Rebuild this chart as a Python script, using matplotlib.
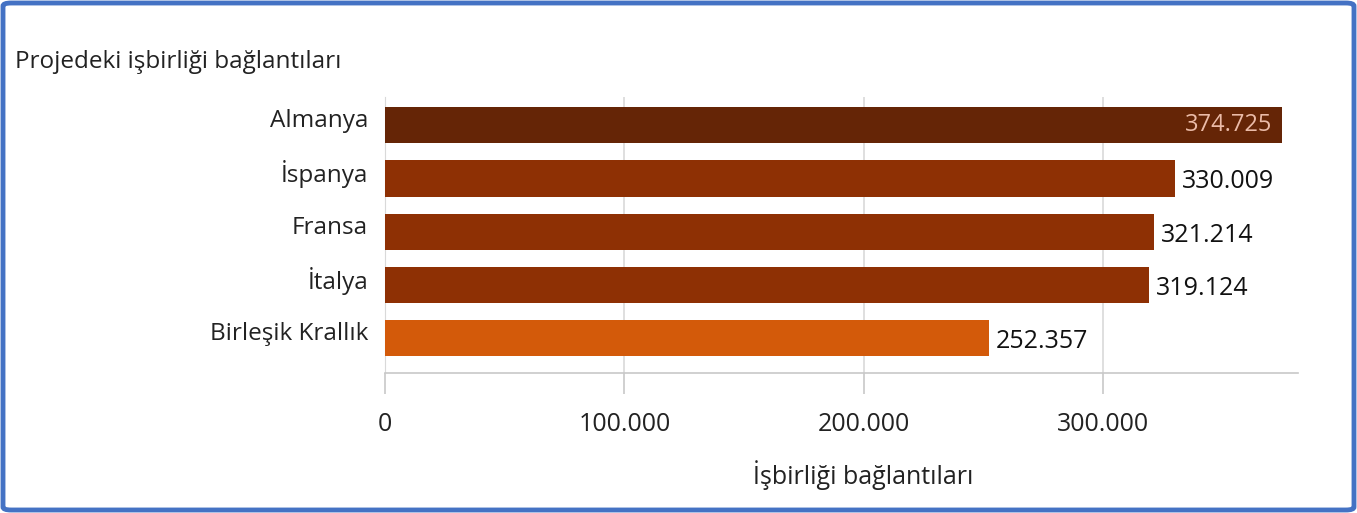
import matplotlib.pyplot as plt
from matplotlib.patches import FancyBboxPatch
from matplotlib.ticker import FuncFormatter

# veriler
countries = ['Almanya', 'İspanya', 'Fransa', 'İtalya', 'Birleşik Krallık']
values = [374725, 330009, 321214, 319124, 252357]
bar_colors = ['#652506', '#8E3004', '#8E3004', '#8E3004', '#D35A0A']
x_ticks = [0, 100000, 200000, 300000]

plt.rcParams['font.family'] = ['Open Sans', 'DejaVu Sans']

W, H = 1357, 513
fig = plt.figure(figsize=(W / 100, H / 100), dpi=100)
ax = fig.add_axes([385 / W, 1 - 373 / H, (1298 - 385) / W, (373 - 97) / H])

y = list(range(len(countries)))
ax.barh(y, values, height=0.68, color=bar_colors, zorder=3)
ax.set_ylim(4.65, -0.53)
ax.set_xlim(0, 381500)

# kategori etiketleri (çubuk merkezinin biraz üstünde)
ax.set_yticks(y)
ax.set_yticklabels([])
ax.tick_params(axis='y', length=0)
for i, c in enumerate(countries):
    ax.text(-17 / (1298 - 385), i - 0.08, c, transform=ax.get_yaxis_transform(),
            ha='right', va='center', fontsize=17.5, color='#222222')

ax.set_xticks(x_ticks)
ax.xaxis.set_major_formatter(FuncFormatter(lambda v, p: f'{int(v):,}'.replace(',', '.')))
ax.tick_params(axis='x', length=15, color='#c8c8c8', width=1.2, labelsize=18,
               labelcolor='#222222', pad=13)

ax.grid(axis='x', color='#d9d9d9', linewidth=1.2, zorder=0)
for s in ['top', 'right']:
    ax.spines[s].set_visible(False)
ax.spines['left'].set_color('#d9d9d9')
ax.spines['bottom'].set_color('#c8c8c8')
ax.spines['bottom'].set_linewidth(1.2)

def fmt(v):
    return f'{v:,}'.replace(',', '.')

for i, v in enumerate(values):
    if i == 0:
        ax.text(v - 4000, i, fmt(v), ha='right', va='center', fontsize=17,
                color='#EBBBA8', zorder=4)
    else:
        ax.text(v + 3000, i + 0.06, fmt(v), ha='left', va='center', fontsize=18,
                color='#111111', zorder=4)

fig.text(15 / W, 1 - 62 / H, 'Projedeki işbirliği bağlantıları', fontsize=17.5,
         color='#222222', ha='left', va='center')
fig.text(863 / W, 1 - 475 / H, 'İşbirliği bağlantıları', fontsize=18,
         color='#222222', ha='center', va='center')

# mavi çerçeve
border = FancyBboxPatch((3 / W, 3 / H), 1 - 6 / W, 1 - 6 / H,
                        boxstyle='round,pad=0,rounding_size=0.006',
                        transform=fig.transFigure, fill=False,
                        edgecolor='#4472C4', linewidth=3.5)
fig.patches.append(border)

fig.savefig('out.png', dpi=100)
